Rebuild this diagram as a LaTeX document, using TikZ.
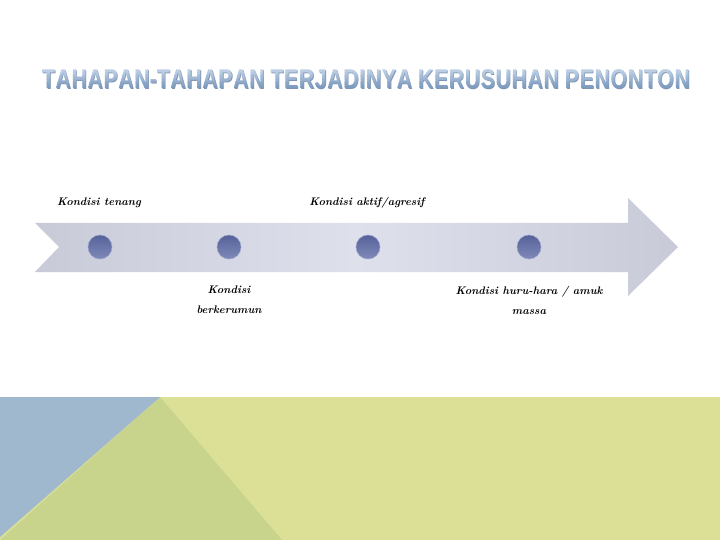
\documentclass[tikz,border=0pt]{standalone}
\usepackage{fontspec}
\newfontfamily\titlefont{Liberation Sans}
\definecolor{lgreen}{HTML}{DBE096}
\definecolor{dgreen}{HTML}{C8D48C}
\definecolor{lblue}{HTML}{A0B8CE}
\definecolor{arrowL}{HTML}{C8CAD8}
\definecolor{arrowM}{HTML}{DEE1EC}
\definecolor{dotTop}{HTML}{56619A}
\definecolor{dotBot}{HTML}{7F8AB9}
\definecolor{dotRim}{HTML}{9AA3CC}
\definecolor{titleTop}{HTML}{C3D4E8}
\definecolor{titleBot}{HTML}{7695BC}
\definecolor{titleShadow}{HTML}{7F96B5}
\newcommand{\titletext}{\resizebox{648pt}{19pt}{\titlefont\bfseries T\kern0.3ptA\kern0.3ptH\kern0.3ptA\kern0.3ptP\kern0.3ptA\kern0.3ptN-T\kern0.3ptA\kern0.3ptH\kern0.3ptA\kern0.3ptP\kern0.3ptA\kern0.3ptN T\kern0.3ptE\kern0.3ptR\kern0.3ptJ\kern0.3ptA\kern0.3ptD\kern0.3ptI\kern0.3ptN\kern0.3ptY\kern0.3ptA K\kern0.3ptE\kern0.3ptR\kern0.3ptU\kern0.3ptS\kern0.3ptU\kern0.3ptH\kern0.3ptA\kern0.3ptN P\kern0.3ptE\kern0.3ptN\kern0.3ptO\kern0.3ptN\kern0.3ptT\kern0.3ptO\kern0.3ptN}}
\begin{document}
\begin{tikzpicture}[x=1pt,y=-1pt,
  dot/.style={circle, minimum size=24pt, inner sep=0pt, draw=dotRim, line width=0.5pt, top color=dotTop, bottom color=dotBot},
  lbl/.style={align=center, inner sep=0pt, font=\fontsize{11}{20}\selectfont\bfseries\itshape, text=black},
  ttl/.style={inner sep=0pt, anchor=center}]
\useasboundingbox (0,0) rectangle (720,540);
\fill[white] (0,0) rectangle (720,540);
% bottom decorative band
\fill[lgreen] (0,397) rectangle (720,540);
\fill[dgreen] (160,397) -- (282,540) -- (0,540) -- cycle;
\fill[lblue] (0,397) -- (160,397) -- (0,537) -- cycle;
% title
\node[ttl, text=titleShadow] (tshadow) at (366.8,79.8) {\titletext};
\foreach \i in {0,...,11}{
  \pgfmathsetmacro{\ya}{69+\i*1.75}
  \pgfmathsetmacro{\yb}{69+(\i+1)*1.75+0.2}
  \pgfmathtruncatemacro{\pc}{100-\i*9}
  \begin{scope}
    \clip (0,\ya) rectangle (720,\yb);
    \node[ttl, text=titleTop!\pc!titleBot] (t\i) at (366,79) {\titletext};
  \end{scope}
}
% arrow
\shade[left color=arrowL, right color=arrowL, middle color=arrowM]
  (35,223) -- (628,223) -- (628,198) -- (678,247) -- (628,296) -- (628,272) -- (35,272) -- (59,247) -- cycle;
% dots
\node[dot] (c1) at (100,247) {};
\node[dot] (c2) at (229,247) {};
\node[dot] (c3) at (368,247) {};
\node[dot] (c4) at (529,247) {};
% labels
\node[lbl] (l1) at (99,203) {Kondisi tenang};
\node[lbl] (l3) at (367,203) {Kondisi aktif/agresif};
\node[lbl] (l2) at (229,300) {Kondisi\\berkerumun};
\node[lbl] (l4) at (529,300) {Kondisi huru-hara / amuk\\massa};
\end{tikzpicture}
\end{document}
